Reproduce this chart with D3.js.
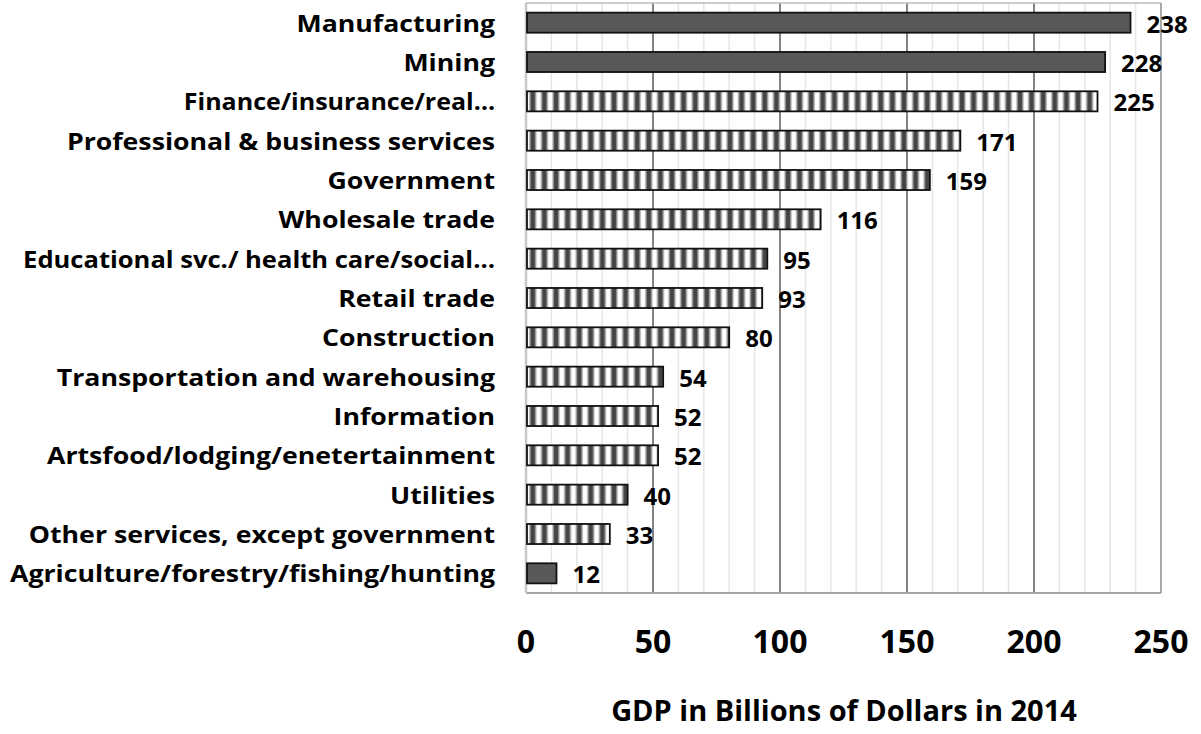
<!DOCTYPE html>
<html><head><meta charset="utf-8">
<script src="https://cdn.jsdelivr.net/npm/d3@7"></script>
<style>body{margin:0;background:#fff}svg{display:block}text{font-family:"Open Sans",sans-serif;font-weight:700;fill:#000}</style>
</head><body><svg id="c" width="1201" height="734"></svg>
<script>
const categories = ["Manufacturing","Mining","Finance/insurance/real…","Professional & business services","Government","Wholesale trade","Educational svc./ health care/social…","Retail trade","Construction","Transportation and warehousing","Information","Artsfood/lodging/enetertainment","Utilities","Other services, except government","Agriculture/forestry/fishing/hunting"];
const values = [238,228,225,171,159,116,95,93,80,54,52,52,40,33,12];
const solidCats = ["Manufacturing","Mining","Agriculture/forestry/fishing/hunting"];
const ticks = [0,50,100,150,200,250];
const minorTicks = d3.range(0,251,10);
const xTitle = "GDP in Billions of Dollars in 2014";

const svg = d3.select("#c");
const L=526,R=1161,T=3,B=593;
const x = d3.scaleLinear().domain([0,250]).range([L,R]);
const y = d3.scaleBand().domain(categories).range([T,B]).paddingInner(0.49).paddingOuter(0.245);

const defs = svg.append("defs");
const grad = defs.append("linearGradient").attr("id","sg").attr("x1",0).attr("x2",1).attr("y1",0).attr("y2",0);
[[0,"#ffffff"],[0.12,"#ffffff"],[0.26,"#a0a0a0"],[0.38,"#444"],[0.62,"#444"],[0.74,"#a0a0a0"],[0.88,"#ffffff"],[1,"#ffffff"]].forEach(([o,c])=>grad.append("stop").attr("offset",o).attr("stop-color",c));
const pat = defs.append("pattern").attr("id","stripe").attr("patternUnits","userSpaceOnUse").attr("width",11.6).attr("height",40).attr("x",L+1);
pat.append("rect").attr("width",11.6).attr("height",40).attr("fill","url(#sg)");

// minor grid
svg.append("g").selectAll("line").data(minorTicks.filter(d=>d%50!==0)).join("line")
  .attr("x1",d=>x(d)).attr("x2",d=>x(d)).attr("y1",T).attr("y2",B)
  .attr("stroke","#e6e6e6").attr("stroke-width",1.5);
// major grid
svg.append("g").selectAll("line").data(ticks.filter(d=>d>0&&d<250)).join("line")
  .attr("x1",d=>x(d)).attr("x2",d=>x(d)).attr("y1",T).attr("y2",B)
  .attr("stroke","#5a5a5a").attr("stroke-width",1.5);
// frame
svg.append("line").attr("x1",L).attr("x2",R).attr("y1",T).attr("y2",T).attr("stroke","#bdbdbd").attr("stroke-width",1.5);
svg.append("line").attr("x1",R).attr("x2",R).attr("y1",T).attr("y2",B).attr("stroke","#8c8c8c").attr("stroke-width",1.5);
svg.append("line").attr("x1",L).attr("x2",R).attr("y1",B).attr("y2",B).attr("stroke","#a6a6a6").attr("stroke-width",2);
svg.append("line").attr("x1",L).attr("x2",L).attr("y1",T).attr("y2",B).attr("stroke","#c8c8c8").attr("stroke-width",2.5);

// bars
svg.append("g").selectAll("rect").data(categories).join("rect")
  .attr("x",x(0)+1).attr("y",d=>y(d))
  .attr("width",(d,i)=>x(values[i])-x(0)-1).attr("height",y.bandwidth())
  .attr("fill",d=>solidCats.includes(d)?"#595959":"url(#stripe)")
  .attr("stroke","#111").attr("stroke-width",1.8);

// value labels
svg.append("g").selectAll("text").data(categories).join("text")
  .attr("x",(d,i)=>x(values[i])+16).attr("y",d=>y(d)+y.bandwidth()/2+10)
  .style("font-size","24px")
  .text((d,i)=>values[i]);

// category labels
const catLabels = svg.append("g").selectAll("text").data(categories).join("text")
  .attr("x",495).attr("y",d=>y(d)+y.bandwidth()/2+9)
  .attr("text-anchor","end").style("font-size","23px")
  .text(d=>d);
// horizontal stretch to match reference width of the longest label
const longest = catLabels.filter(d=>d===categories[categories.length-1]).node().getComputedTextLength();
const k = 485/longest;
catLabels.each(function(d){
  let w=this.getComputedTextLength()*k;
  if (d.endsWith("…")) w -= 21;
  d3.select(this).attr("textLength",w).attr("lengthAdjust","spacingAndGlyphs");
});

// x tick labels
svg.append("g").selectAll("text").data(ticks).join("text")
  .attr("x",d=>x(d)).attr("y",653).attr("text-anchor","middle")
  .style("font-size","32px").text(d=>d);

svg.append("text").attr("x",(L+R)/2+0.5).attr("y",721).attr("text-anchor","middle")
  .style("font-size","29px").text(xTitle);
</script></body></html>
